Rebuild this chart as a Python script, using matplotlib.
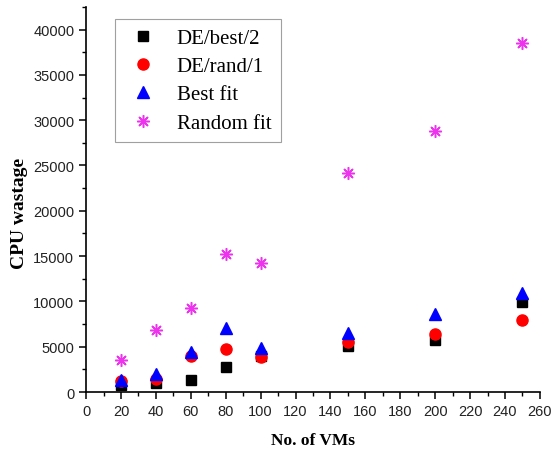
import matplotlib
matplotlib.use("Agg")
import matplotlib.pyplot as plt
from matplotlib.ticker import MultipleLocator

vms = [20, 40, 60, 80, 100, 150, 200, 250]
de_best2 = [800, 1000, 1300, 2750, 4000, 5100, 5750, 9900]
de_rand1 = [1200, 1400, 4000, 4750, 3900, 5500, 6400, 8000]
best_fit = [1300, 2000, 4400, 7100, 4900, 6500, 8600, 10900]
random_fit = [3500, 6850, 9300, 15250, 14250, 24200, 28850, 38550]

fig = plt.figure(figsize=(5.52, 4.52), dpi=100)
ax = fig.add_axes([0.156, 0.1305, 0.822, 0.852])

ax.plot(vms, de_best2, 's', color='black', markersize=7, label='DE/best/2', linestyle='none')
ax.plot(vms, de_rand1, 'o', color='red', markersize=8, label='DE/rand/1', linestyle='none')
ax.plot(vms, best_fit, '^', color='blue', markersize=9, label='Best fit', linestyle='none')
ax.plot(vms, random_fit, marker=(8, 2, 0), color='#ee33ee', markersize=9, markeredgewidth=1.1,
        label='Random fit', linestyle='none')

ax.set_xlim(0, 260)
ax.set_ylim(0, 42500)
ax.xaxis.set_major_locator(MultipleLocator(20))
ax.xaxis.set_minor_locator(MultipleLocator(10))
ax.yaxis.set_major_locator(MultipleLocator(5000))
ax.yaxis.set_minor_locator(MultipleLocator(2500))
ax.spines['top'].set_visible(False)
ax.spines['right'].set_visible(False)
for s in ('left', 'bottom'):
    ax.spines[s].set_linewidth(1.2)
ax.tick_params(which='major', direction='out', length=5, width=1.1, labelsize=10.5)
ax.tick_params(which='minor', direction='out', length=3, width=1.0)
for lab in ax.get_xticklabels() + ax.get_yticklabels():
    lab.set_fontfamily('Liberation Sans')
    lab.set_color('#222222')

ax.set_xlabel('No. of VMs', fontfamily='Liberation Serif', fontweight='bold', fontsize=12.5, labelpad=10)
ax.set_ylabel('CPU wastage', fontfamily='Liberation Serif', fontweight='bold', fontsize=14)
ax.yaxis.set_label_coords(-0.128, 0.467)

leg = ax.legend(loc='upper left', bbox_to_anchor=(0.064, 0.969), borderaxespad=0, frameon=True,
                fancybox=False, prop={'family': 'Liberation Serif', 'size': 15}, handletextpad=0.7,
                borderpad=0.45, labelspacing=0.42, handlelength=1.8)
leg.get_frame().set_edgecolor('#888888')
leg.get_frame().set_linewidth(0.8)

fig.savefig('out.png', dpi=100)
